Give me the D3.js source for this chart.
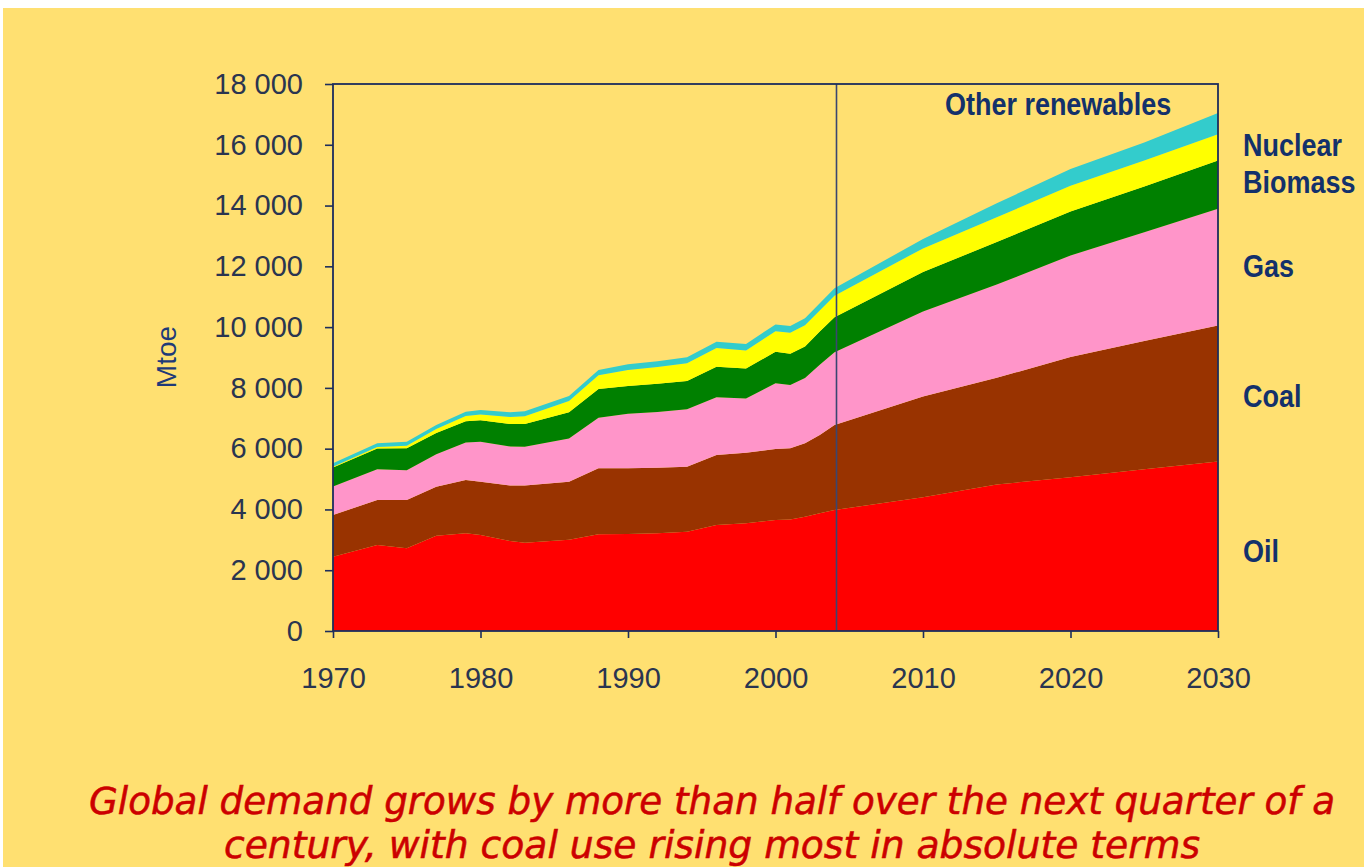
<!DOCTYPE html>
<html><head><meta charset="utf-8">
<script src="https://cdn.jsdelivr.net/npm/d3@7"></script>
<style>html,body{margin:0;padding:0;background:#fff;}svg{display:block;}</style>
</head><body>
<svg id="chart" width="1364" height="867"></svg>
<script>
// ---- data (Mtoe) ----
const years   = [1970,1973,1975,1977,1979,1980,1982,1983,1986,1988,1990,1992,1994,1996,1998,2000,2001,2002,2003,2004,2010,2015,2020,2025,2030];
const oil     = [2446,2830,2720,3137,3214,3159,2960,2900,3000,3181,3192,3220,3269,3488,3543,3653,3670,3762,3872,3982,4400,4820,5060,5320,5575];
const coal    = [1371,1481,1591,1613,1755,1755,1830,1890,1914,2172,2161,2150,2139,2304,2326,2332,2340,2414,2578,2797,3320,3510,3960,4220,4478];
const gas     = [935,1014,979,1064,1234,1314,1285,1275,1424,1661,1792,1840,1887,1904,1785,2165,2085,2149,2308,2393,2790,3072,3335,3580,3839];
const biomass = [625,680,720,700,700,710,740,745,860,950,920,930,935,1000,980,1040,1030,1040,1100,1150,1300,1400,1450,1510,1590];
const nuclear = [30,50,90,130,170,186,230,260,370,450,525,550,580,620,600,675,690,695,690,714,780,815,845,855,861];
const renew   = [110,120,130,135,145,148,155,160,165,175,185,190,195,205,210,225,225,230,235,240,310,460,550,590,700];
const seriesKeys   = ["Oil","Coal","Gas","Biomass","Nuclear","Other renewables"];
const seriesColors = ["#ff0000","#993300","#ff95c9","#008000","#ffff00","#33cccc"];
const xTicks = [1970,1980,1990,2000,2010,2020,2030];
const yTicks = [0,2000,4000,6000,8000,10000,12000,14000,16000,18000];
const dividerYear = 2004;
const rightLabels = [
  {text:"Nuclear", y:145},
  {text:"Biomass", y:182},
  {text:"Gas", y:266},
  {text:"Coal", y:396},
  {text:"Oil", y:551}
];
const caption = ["Global demand grows by more than half over the next quarter of a",
                 "century, with coal use rising most in absolute terms"];

// ---- build table ----
const table = years.map((yr,i)=>({year:yr,"Oil":oil[i],"Coal":coal[i],"Gas":gas[i],"Biomass":biomass[i],"Nuclear":nuclear[i],"Other renewables":renew[i]}));

const svg = d3.select("#chart");
svg.append("rect").attr("x",3).attr("y",8).attr("width",1361).attr("height",859).attr("fill","#ffe071");

const m = {left:333, top:84, right:1218, bottom:631};
const x = d3.scaleLinear().domain([1970,2030]).range([m.left,m.right]);
const y = d3.scaleLinear().domain([0,18000]).range([m.bottom,m.top]);

const stack = d3.stack().keys(seriesKeys);
const layers = stack(table);
const area = d3.area().x(d=>x(d.data.year)).y0(d=>y(d[0])).y1(d=>y(d[1]));

svg.append("g").selectAll("path").data(layers).join("path")
  .attr("d",area).attr("fill",(d,i)=>seriesColors[i]);

const axisColor = "#1d2d5c";
// divider
svg.append("line").attr("x1",x(dividerYear)+2).attr("x2",x(dividerYear)+2)
  .attr("y1",m.top).attr("y2",m.bottom).attr("stroke","#3a4670").attr("stroke-width",1.6);
// frame
svg.append("rect").attr("x",m.left).attr("y",m.top).attr("width",m.right-m.left).attr("height",m.bottom-m.top)
  .attr("fill","none").attr("stroke",axisColor).attr("stroke-width",1.8);

const loc = d3.formatLocale({decimal:".",thousands:" ",grouping:[3],currency:["",""]});
const yAxis = d3.axisLeft(y).tickValues(yTicks).tickFormat(loc.format(",d")).tickSize(8).tickPadding(22);
const gy = svg.append("g").attr("transform",`translate(${m.left},0)`).call(yAxis);
const xAxis = d3.axisBottom(x).tickValues(xTicks).tickFormat(d3.format("d")).tickSize(7).tickPadding(29);
const gx = svg.append("g").attr("transform",`translate(0,${m.bottom})`).call(xAxis);
[gx,gy].forEach(g=>{
  g.select(".domain").remove();
  g.selectAll(".tick line").attr("stroke",axisColor).attr("stroke-width",1.6);
  g.selectAll(".tick text").attr("fill","#2a3550").attr("font-family","'Liberation Sans',Arial,sans-serif").attr("font-size",29);
});

// y title
svg.append("text").attr("transform","translate(176,357) rotate(-90)")
  .attr("text-anchor","middle").attr("font-family","'Liberation Sans',Arial,sans-serif")
  .attr("font-size",28).attr("fill","#1f3a78").text("Mtoe");

const labFont = "'Liberation Sans',Arial,sans-serif";
const labColor = "#13316b";
const sx = 0.87;
svg.append("g").attr("transform",`translate(945,104) scale(${sx},1)`)
  .append("text").attr("x",0).attr("y",0).attr("dy","0.36em")
  .attr("font-family",labFont).attr("font-weight","bold").attr("font-size",31)
  .attr("fill",labColor).text("Other renewables");
svg.append("g").selectAll("g").data(rightLabels).join("g")
  .attr("transform",d=>`translate(1243,${d.y}) scale(${sx},1)`)
  .append("text").attr("x",0).attr("y",0).attr("dy","0.36em")
  .attr("font-family",labFont).attr("font-weight","bold").attr("font-size",31)
  .attr("fill",labColor).text(d=>d.text);

// caption
const capW = [1246, 976];
const capY = [814, 858];
svg.append("g").selectAll("text").data(caption).join("text")
  .attr("x",712).attr("y",(d,i)=>capY[i]).attr("text-anchor","middle")
  .attr("font-family","'DejaVu Sans Condensed','DejaVu Sans',Verdana,sans-serif").attr("font-style","italic")
  .attr("font-size",37).attr("fill","#cc0000").attr("stroke","#cc0000").attr("stroke-width",0.5)
  .attr("textLength",(d,i)=>capW[i]).attr("lengthAdjust","spacingAndGlyphs")
  .text(d=>d);
</script>
</body></html>
